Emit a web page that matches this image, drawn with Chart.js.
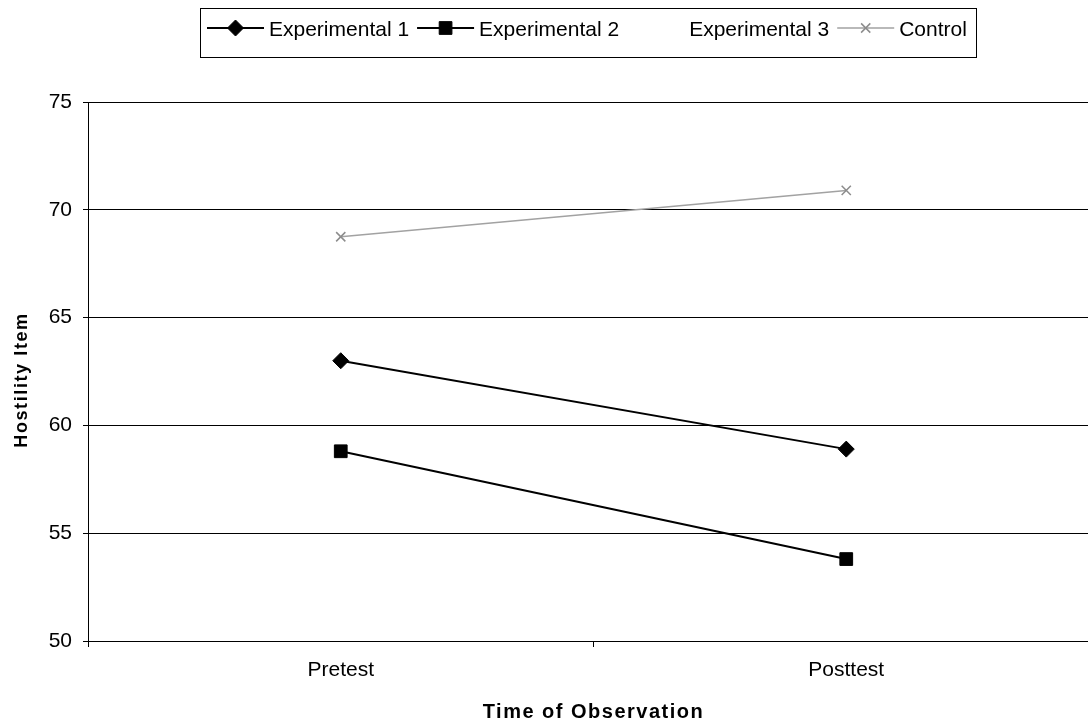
<!DOCTYPE html>
<html>
<head>
<meta charset="utf-8">
<script src="https://cdn.jsdelivr.net/npm/chart.js@4.4.1/dist/chart.umd.min.js"></script>
<style>
  html, body { margin: 0; padding: 0; background: #fff; overflow: hidden; }
  #c { display: block; }
</style>
</head>
<body>
<canvas id="c" width="1109" height="723"></canvas>
<script>
// Group means of the hostility item at each observation
const categories = ['Pretest', 'Posttest'];
const seriesNames = ['Experimental 1', 'Experimental 2', 'Experimental 3', 'Control'];
const experimental1 = [63.0, 58.9];
const experimental2 = [58.8, 53.8];
const experimental3 = [null, null];
const control = [68.75, 70.9];
const yTicks = [50, 55, 60, 65, 70, 75];
const xTitle = 'Time of Observation';
const yTitle = 'Hostility Item';

const FONT = '"Liberation Sans", Arial, Helvetica, sans-serif';

// Boxed legend drawn above the plot: line + marker sample, then the label
const boxedLegend = {
  id: 'boxedLegend',
  afterDraw(chart) {
    const ctx = chart.ctx;
    ctx.save();
    ctx.font = '21px ' + FONT;
    const symW = 57, gapA = 5, gapB = 8, padL = 7, padR = 9;
    const items = chart.data.datasets.map(ds => ({ ds, w: ctx.measureText(ds.label).width }));
    let total = padL + padR - gapB;
    items.forEach(it => { total += symW + gapA + it.w + gapB; });
    const left = 200, top = 8, h = 49, cy = 28;
    ctx.strokeStyle = '#000';
    ctx.lineWidth = 1;
    ctx.strokeRect(left + 0.5, top + 0.5, Math.round(total), h);
    let x = left + padL;
    items.forEach(it => {
      const ds = it.ds;
      if (ds.showInLegendSymbol !== false) {
        ctx.strokeStyle = ds.borderColor;
        ctx.lineWidth = ds.borderWidth;
        ctx.beginPath();
        ctx.moveTo(x, cy);
        ctx.lineTo(x + symW, cy);
        ctx.stroke();
        ctx.fillStyle = ds.pointBackgroundColor;
        ctx.strokeStyle = ds.pointBorderColor;
        ctx.lineWidth = ds.pointBorderWidth;
        Chart.helpers.drawPoint(ctx, {
          pointStyle: ds.pointStyle, radius: ds.pointRadius,
          borderWidth: ds.pointBorderWidth, rotation: 0
        }, x + symW / 2, cy);
      }
      ctx.fillStyle = '#000';
      ctx.textBaseline = 'alphabetic';
      ctx.textAlign = 'left';
      ctx.fillText(ds.label, x + symW + gapA, 36);
      x += symW + gapA + it.w + gapB;
    });
    ctx.restore();
  }
};

// Axis titles, both letter-spaced
const axisTitles = {
  id: 'axisTitles',
  afterDraw(chart) {
    const ctx = chart.ctx;
    const area = chart.chartArea;
    ctx.save();
    ctx.fillStyle = '#000';
    ctx.textAlign = 'center';
    ctx.textBaseline = 'alphabetic';
    ctx.font = 'bold 20px ' + FONT;
    ctx.letterSpacing = '1.5px';
    ctx.fillText(xTitle, (area.left + area.right) / 2, 718);
    ctx.font = 'bold 18px ' + FONT;
    ctx.letterSpacing = '1.6px';
    ctx.translate(27, 380);
    ctx.rotate(-Math.PI / 2);
    ctx.fillText(yTitle, 0, 0);
    ctx.restore();
  }
};

const datasets = [
  {
    label: seriesNames[0], data: experimental1,
    borderColor: '#000', borderWidth: 2,
    pointStyle: 'rectRot', pointRadius: 8,
    pointBackgroundColor: '#000', pointBorderColor: '#000', pointBorderWidth: 1
  },
  {
    label: seriesNames[1], data: experimental2,
    borderColor: '#000', borderWidth: 2,
    pointStyle: 'rect', pointRadius: 9,
    pointBackgroundColor: '#000', pointBorderColor: '#000', pointBorderWidth: 1
  },
  {
    label: seriesNames[2], data: experimental3,
    borderColor: 'rgba(0,0,0,0)', borderWidth: 0, pointRadius: 0,
    showInLegendSymbol: false
  },
  {
    label: seriesNames[3], data: control,
    borderColor: '#a2a2a2', borderWidth: 1.5,
    pointStyle: 'crossRot', pointRadius: 6.5,
    pointBackgroundColor: '#8c8c8c', pointBorderColor: '#8c8c8c', pointBorderWidth: 1.5
  }
];

new Chart(document.getElementById('c'), {
  type: 'line',
  data: { labels: categories, datasets },
  plugins: [boxedLegend, axisTitles],
  options: {
    responsive: false,
    animation: false,
    devicePixelRatio: 1,
    layout: { padding: { left: 0, top: 102, right: 1, bottom: 0 } },
    plugins: { legend: { display: false }, tooltip: { enabled: false } },
    elements: { line: { tension: 0 } },
    scales: {
      x: {
        type: 'category',
        offset: true,
        grid: { display: true, drawOnChartArea: false, drawTicks: true, tickLength: 6, color: '#000', offset: true },
        border: { color: '#000', width: 1 },
        ticks: { color: '#000', font: { family: FONT, size: 21 }, padding: 11, maxRotation: 0 },
        afterFit(s) { s.height = 82; }
      },
      y: {
        min: 50, max: 75,
        afterBuildTicks(s) { s.ticks = yTicks.map(v => ({ value: v })); },
        grid: { color: '#000', lineWidth: 1, tickLength: 5 },
        border: { color: '#000', width: 1 },
        ticks: { color: '#000', font: { family: FONT, size: 21 }, padding: 11 },
        afterFit(s) { s.width = 88; }
      }
    }
  }
});
</script>
</body>
</html>
